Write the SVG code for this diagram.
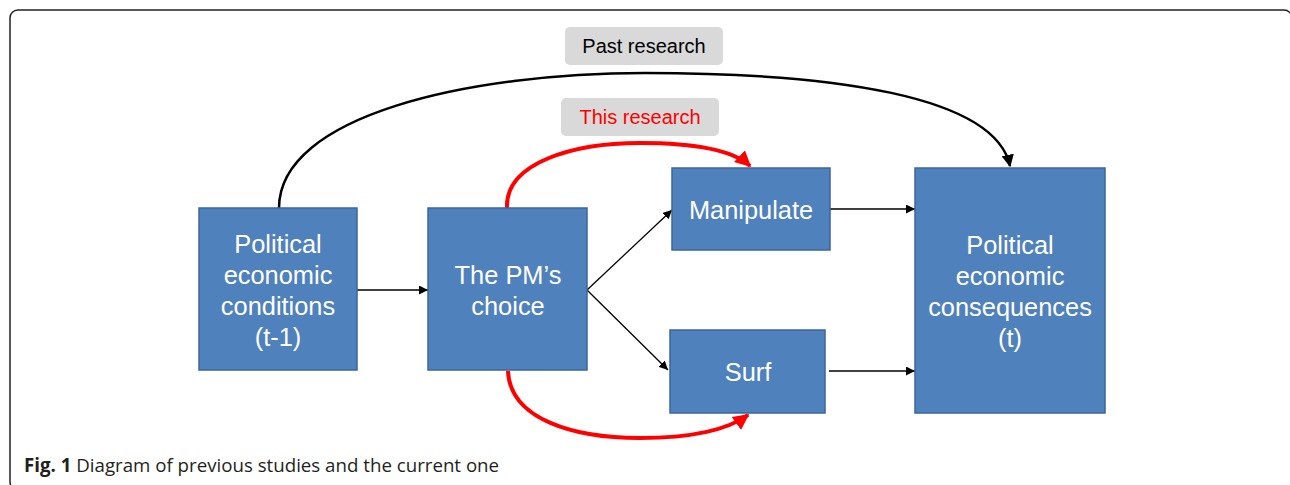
<svg xmlns="http://www.w3.org/2000/svg" width="1290" height="485" viewBox="0 0 1290 485">
<style>
.box{fill:#4f81bd;stroke:#3c669a;stroke-width:1.5}
.bt{font-family:"Liberation Sans",Arial,sans-serif;font-size:25.4px;fill:#fff;text-anchor:middle}
.lab{fill:#d9d9d9}
.lt{font-family:"Liberation Sans",Arial,sans-serif;font-size:20px;text-anchor:middle}
.thin{fill:none;stroke:#000;stroke-width:1.3}
.arc{fill:none;stroke:#000;stroke-width:2.5}
.red{fill:none;stroke:#ff0000;stroke-width:4}
.cap{font-family:"Open Sans","DejaVu Sans",sans-serif;font-size:18.7px;fill:#231f20}
</style>
<defs>
<marker id="ah" viewBox="0 0 10 10" refX="10" refY="5" markerWidth="9" markerHeight="9" markerUnits="userSpaceOnUse" orient="auto"><path d="M0,0 L10,5 L0,10 z" fill="#000"/></marker>
<marker id="ahb" viewBox="0 0 10 10" refX="9" refY="5" markerWidth="5" markerHeight="5" orient="auto"><path d="M0,0 L10,5 L0,10 z" fill="#000"/></marker>
<marker id="ahr" viewBox="0 0 10 10" refX="9" refY="5" markerWidth="4" markerHeight="4" orient="auto"><path d="M0,0 L10,5 L0,10 z" fill="#ff0000"/></marker>
</defs>
<rect x="10" y="10" width="1282" height="480" rx="8" fill="none" stroke="#222" stroke-width="1.5"/>
<g id="label-past"><rect class="lab" x="565" y="27" width="158" height="38" rx="5"/><text class="lt" x="644" y="53" fill="#000">Past research</text></g>
<g id="label-this"><rect class="lab" x="561" y="98" width="158" height="38" rx="5"/><text class="lt" x="640" y="124" fill="#ff0000">This research</text></g>
<g id="connectors">
<path class="arc" d="M279,208 C279,115 470,73 645,73 C830,73 995,95 1010,166" marker-end="url(#ahb)"/>
<path class="red" d="M507,208 C505,162 575,143 640,143 C700,143 735,152 750,166" marker-end="url(#ahr)"/>
<path class="red" d="M508,371 C510,420 575,438 640,438 C700,438 730,428 748,415" marker-end="url(#ahr)"/>
<line class="thin" x1="357" y1="290" x2="428" y2="290" marker-end="url(#ah)"/>
<line class="thin" x1="587" y1="290" x2="672" y2="210" marker-end="url(#ah)"/>
<line class="thin" x1="587" y1="290" x2="668" y2="370" marker-end="url(#ah)"/>
<line class="thin" x1="830" y1="209" x2="915" y2="209" marker-end="url(#ah)"/>
<line class="thin" x1="829" y1="371" x2="915" y2="371" marker-end="url(#ah)"/>
</g>
<g id="node-conditions"><rect class="box" x="199" y="208" width="158" height="162"/>
<text class="bt" x="278"><tspan x="278" y="253">Political</tspan><tspan x="278" y="284">economic</tspan><tspan x="278" y="315">conditions</tspan><tspan x="278" y="346">(t-1)</tspan></text></g>
<g id="node-choice"><rect class="box" x="428" y="208" width="159" height="162"/>
<text class="bt" x="508"><tspan x="508" y="284">The PM’s</tspan><tspan x="508" y="315">choice</tspan></text></g>
<g id="node-manipulate"><rect class="box" x="672" y="168" width="158" height="82"/>
<text class="bt" x="751" y="219">Manipulate</text></g>
<g id="node-surf"><rect class="box" x="670" y="330" width="155" height="83"/>
<text class="bt" x="748" y="381">Surf</text></g>
<g id="node-consequences"><rect class="box" x="915" y="168" width="190" height="245"/>
<text class="bt" x="1010"><tspan x="1010" y="254">Political</tspan><tspan x="1010" y="285">economic</tspan><tspan x="1010" y="316">consequences</tspan><tspan x="1010" y="347">(t)</tspan></text></g>
<text class="cap" x="24" y="472"><tspan font-weight="bold">Fig. 1</tspan> Diagram of previous studies and the current one</text>
</svg>
